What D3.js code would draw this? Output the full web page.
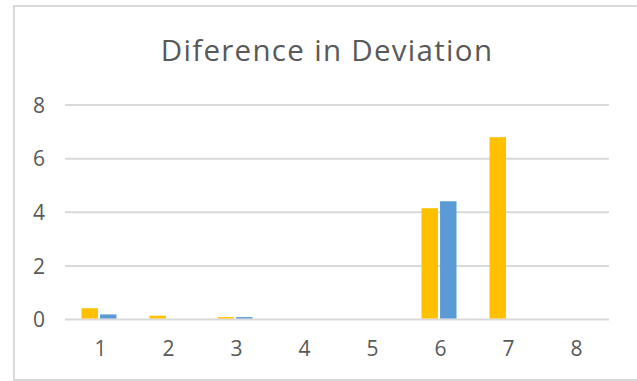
<!DOCTYPE html>
<html>
<head>
<meta charset="utf-8">
<script src="https://cdn.jsdelivr.net/npm/d3@7"></script>
<style>
  html, body { margin: 0; padding: 0; background: #fff; }
  svg { display: block; }
</style>
</head>
<body>
<svg id="chart" width="637" height="381"></svg>
<script>
// Chart data
const categories = ["1", "2", "3", "4", "5", "6", "7", "8"];
const seriesA = [0.42, 0.14, 0.09, 0, 0, 4.15, 6.8, 0];   // gold bars
const seriesB = [0.19, 0, 0.09, 0, 0, 4.41, 0, 0];        // blue bars
const yTicks = [0, 2, 4, 6, 8];
const titleText = "Diference in Deviation";

const colors = { a: "#FFC000", b: "#5B9BD5", grid: "#d9d9d9", text: "#595959" };
const font = "'Open Sans', 'DejaVu Sans', sans-serif";

const svg = d3.select("#chart");
const W = 637, H = 381;
const plot = { left: 65, right: 609, top: 105, bottom: 319.5 };

// Chart frame
svg.append("rect")
  .attr("x", 14).attr("y", 6)
  .attr("width", W + 10).attr("height", H - 7)
  .attr("fill", "#fff")
  .attr("stroke", colors.grid).attr("stroke-width", 2);

// Title
svg.append("text")
  .attr("x", 327).attr("y", 61)
  .attr("text-anchor", "middle")
  .attr("font-family", font)
  .attr("font-size", 29.5)
  .attr("letter-spacing", 1.3)
  .attr("fill", colors.text)
  .text(titleText);

const x = d3.scaleBand().domain(categories).range([plot.left, plot.right]).padding(0);
const y = d3.scaleLinear().domain([0, 8]).range([plot.bottom, plot.top]);

// Gridlines
svg.append("g").selectAll("line").data(yTicks).join("line")
  .attr("x1", plot.left).attr("x2", plot.right)
  .attr("y1", d => y(d)).attr("y2", d => y(d))
  .attr("stroke", colors.grid).attr("stroke-width", 2);

// Y axis labels
const yAxis = d3.axisLeft(y).tickValues(yTicks).tickSize(0).tickPadding(20).tickFormat(d3.format("d"));
const gy = svg.append("g").attr("transform", `translate(${plot.left},0)`).call(yAxis);
gy.select(".domain").remove();
gy.selectAll("text")
  .attr("font-family", font).attr("font-size", 21).attr("fill", colors.text)
  .attr("dy", "0.35em");

// X axis labels
const xAxis = d3.axisBottom(x).tickSize(0).tickPadding(22);
const gx = svg.append("g").attr("transform", `translate(0,${plot.bottom})`).call(xAxis);
gx.select(".domain").remove();
gx.selectAll("text")
  .attr("font-family", font).attr("font-size", 21).attr("fill", colors.text)
  .attr("dx", 1.5);

// Clustered bars
const barW = 15.5, gap = 4;
const inner = d3.scaleBand().domain(["a", "b"])
  .range([x.bandwidth() / 2 - barW - gap / 2, x.bandwidth() / 2 + barW + gap / 2])
  .paddingInner(gap / (2 * barW + gap));

const rows = categories.map((c, i) => ({ c, a: seriesA[i], b: seriesB[i] }));
const groups = svg.append("g").selectAll("g").data(rows).join("g")
  .attr("transform", d => `translate(${x(d.c)},0)`);

groups.selectAll("rect")
  .data(d => [{ k: "a", v: d.a }, { k: "b", v: d.b }].filter(e => e.v > 0))
  .join("rect")
  .attr("x", e => inner(e.k))
  .attr("width", inner.bandwidth())
  .attr("y", e => y(e.v))
  .attr("height", e => y(0) - y(e.v) - 1)
  .attr("fill", e => colors[e.k]);
</script>
</body>
</html>
